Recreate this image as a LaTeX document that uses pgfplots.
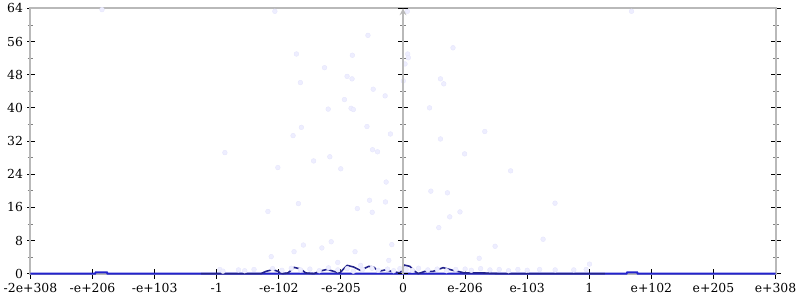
\documentclass[border=0pt]{standalone}
\usepackage{pgfplots}
\pgfplotsset{compat=1.18}
\usepackage{fontspec}
\setmainfont{DejaVu Serif}
\definecolor{axgray}{RGB}{185,185,185}
\definecolor{navyline}{RGB}{35,35,140}
\definecolor{baseblue}{RGB}{35,35,205}
\definecolor{ptfill}{RGB}{238,238,255}
\definecolor{ptdraw}{RGB}{230,230,252}
\begin{document}
\begin{tikzpicture}
\pgfplotsset{
  common/.style={
    scale only axis, width=750pt, height=267pt,
    ymin=0, ymax=64,
    ytick={0,8,...,64}, minor ytick={4,12,...,60},
    tick align=center,
    major tick length=10pt, minor tick length=6pt,
    every major tick/.style={black, line width=1pt},
    every minor tick/.style={gray, line width=0.8pt},
    axis line style={axgray, line width=2pt, -},
    tick label style={font=\fontsize{12.5}{14}\selectfont, text=black},
  }
}
\begin{axis}[common,
  xmin=0, xmax=12,
  xtick={0,...,12},
  xticklabels={{-2e+308},{-e+206},{-e+103},{-1},{-e-102},{-e-205},{0},{e-206},{e-103},{1},{e+102},{e+205},{e+308}},
  yticklabels={0,8,16,24,32,40,48,56,64},
  xtick pos=bottom, ytick pos=both, yticklabel pos=left,
  clip=false,
  xticklabel style={yshift=-1pt, draw=white},
  yticklabel style={xshift=1pt, draw=white},
]
% baseline
\addplot[baseblue, line width=2pt, solid, mark=none] coordinates {
(0,0)(1.04,0)(1.05,0.3)(1.23,0.3)(1.24,0)(9.6,0)(9.61,0.3)(9.77,0.3)(9.78,0)(12,0)
};
% scattered points
\addplot[only marks, mark=*, mark size=2.4pt, mark options={fill=ptfill, draw=ptdraw, line width=0.4pt}] coordinates {
(1.152,63.7)(3.936,63.3)(6.069,63.3)(9.68,63.3)
(5.435,57.5)(4.283,53.0)(5.184,52.7)(6.075,53.0)(6.085,52.1)(6.805,54.5)
(4.736,49.7)(6.032,50.6)(5.099,47.6)(5.179,47.0)(6.005,46.5)(6.603,47.0)
(6.656,45.8)(4.347,46.1)(5.52,44.5)(5.712,42.9)(5.056,42.0)(4.795,39.7)
(5.163,39.9)(5.2,39.6)(6.427,40.0)(4.363,35.3)(5.419,35.5)(7.317,34.3)
(4.229,33.3)(5.797,33.7)(6.603,32.5)(3.131,29.2)(5.509,29.9)(5.589,29.4)
(6.992,28.9)(4.56,27.2)(4.821,28.2)(3.984,25.6)(4.997,25.3)(7.733,24.8)
(5.728,22.1)(6.448,19.9)(6.715,19.5)(5.461,17.7)(5.717,17.3)(4.315,16.9)
(8.448,17.0)(5.264,15.7)(5.504,14.8)(3.824,15.0)(6.917,14.9)(6.752,13.7)
(6.576,11.1)(8.256,8.3)(4.843,7.7)(4.395,6.9)(5.819,7.0)(7.483,6.6)
(4.693,6.2)(4.245,5.3)(5.227,5.3)(3.877,4.1)(7.227,3.7)(5.771,3.2)
(4.949,2.7)(9.003,2.3)(5.317,2.0)
(3.05,1.0)(3.1,0.6)(3.35,0.9)(3.45,0.7)(3.6,1.0)(3.9,1.2)(4.05,0.8)(4.2,1.3)
(4.35,0.9)(4.5,1.1)(4.65,0.7)(4.8,1.4)(4.95,0.9)(5.1,1.2)(5.2,0.6)(5.35,1.0)
(5.5,1.3)(5.6,0.8)(5.75,1.1)(5.85,0.7)(5.95,1.2)(6.05,1.0)(6.15,0.8)(6.25,1.3)
(6.4,0.9)(6.55,1.1)(6.7,0.7)(6.85,1.0)(7.0,1.1)(7.1,0.8)(7.25,1.2)(7.4,0.9)
(7.55,1.0)(7.7,0.7)(7.85,1.0)(8.0,0.8)(8.2,1.0)(8.45,0.9)(8.75,0.9)(8.95,1.0)
};
% density line
\addplot[navyline, line width=1.6pt, solid, mark=none, line join=round] coordinates {
(2.75,0)(3.712,0)(3.792,0.55)(3.899,0.96)(3.989,0.55)(4.059,0)(4.149,0.17)
(4.245,1.51)(4.352,1.13)(4.432,0.17)(4.565,0)(4.672,0.65)(4.779,1.03)(4.885,0.55)
(4.981,0.17)(5.099,1.99)(5.205,1.61)(5.312,0.79)(5.445,1.75)(5.525,1.61)(5.605,0.55)
(5.712,0.89)(5.819,0.55)(5.952,0.17)(6.016,2.09)(6.112,1.75)(6.192,0.55)(6.245,0)
(6.352,0.55)(6.485,0.55)(6.645,1.44)(6.805,0.79)(6.992,0.17)(7.285,0.17)(7.552,0)(9.25,0)
};
\end{axis}
\begin{axis}[common,
  xmin=-6, xmax=6,
  axis x line=none, axis y line=middle,
  yticklabels={}, xtick=\empty,
]
\end{axis}
\draw[white] (current bounding box.south west) rectangle (current bounding box.north east);
\end{tikzpicture}
\end{document}
